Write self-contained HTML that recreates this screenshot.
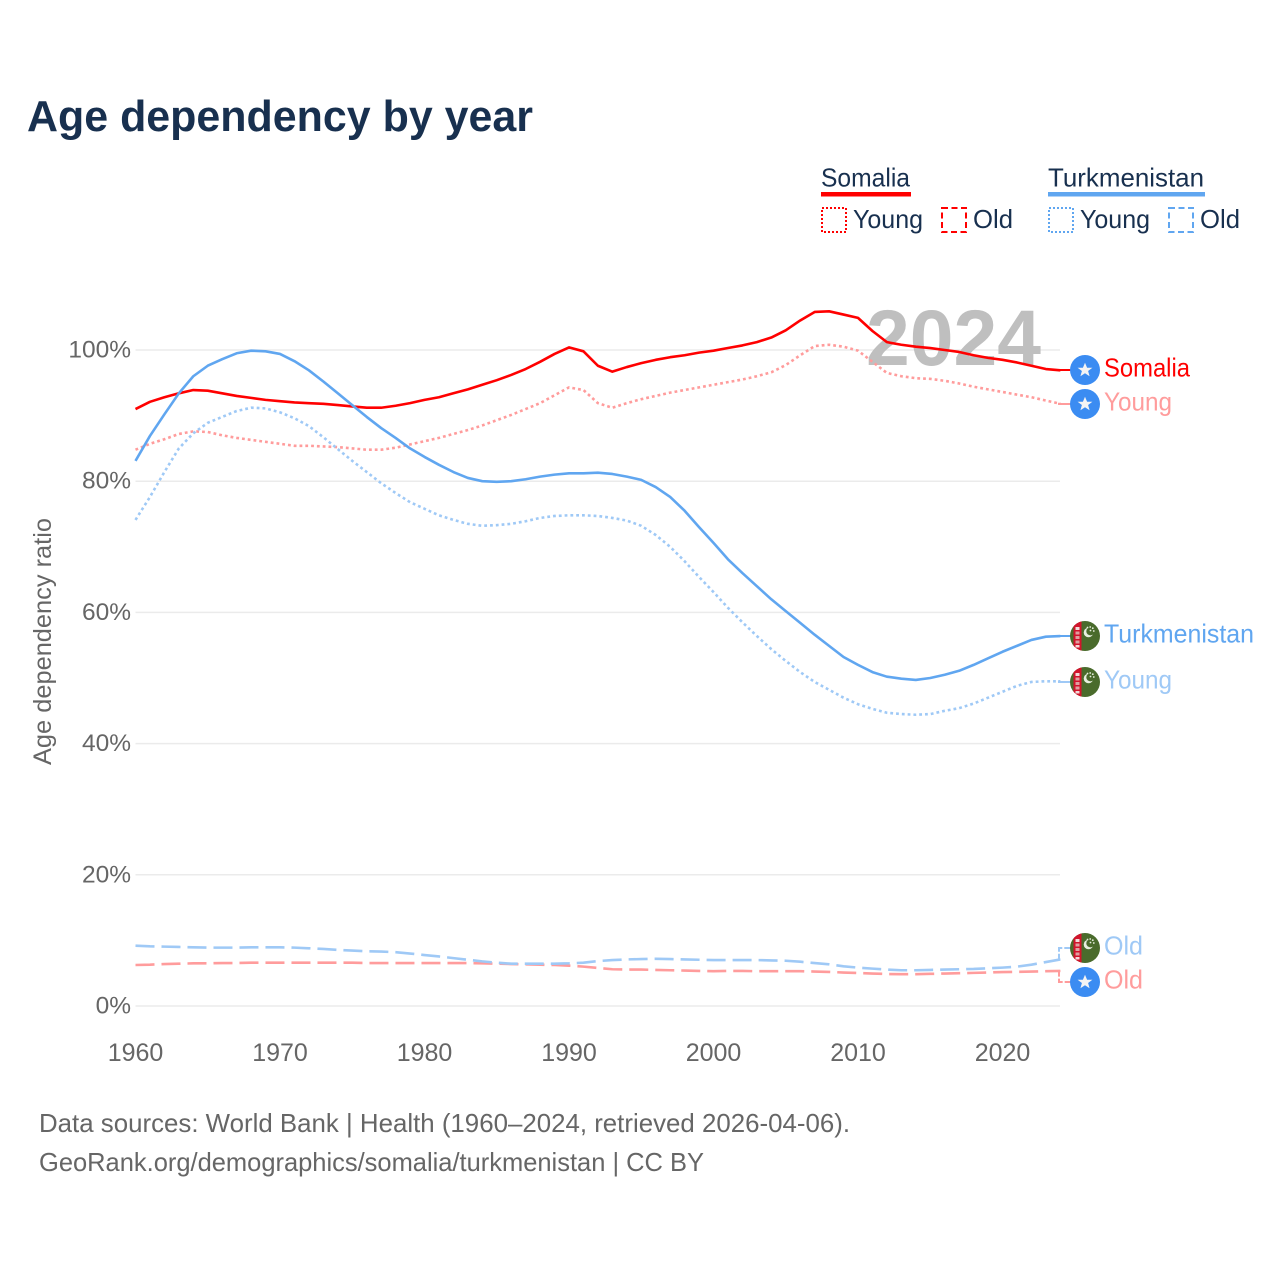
<!DOCTYPE html>
<html lang="en">
<head>
<meta charset="utf-8">
<title>Age dependency by year</title>
<style>
html,body{margin:0;padding:0;background:#fff;}
svg{display:block;}
text{font-family:"Liberation Sans",sans-serif;}
</style>
</head>
<body>
<svg id="chart" width="1280" height="1280" viewBox="0 0 1280 1280" xmlns="http://www.w3.org/2000/svg">
  <defs>
    <clipPath id="flag-clip"><circle cx="0" cy="0" r="15"/></clipPath>
    <g id="flag-so">
      <circle cx="0" cy="0" r="15" fill="#3b8cf2"/>
      <path d="M0-7.2 2.1-2.2 7.4-2.2 3.1 1 4.6 6.3 0 3.2-4.6 6.3-3.1 1-7.4-2.2-2.1-2.2Z" fill="#f4f4f4"/>
    </g>
    <g id="flag-tm">
      <g clip-path="url(#flag-clip)">
        <rect x="-15" y="-15" width="30" height="30" fill="#4a6b2c"/>
        <rect x="-11.5" y="-15" width="8" height="30" fill="#d2142c"/>
        <rect x="-9.5" y="-9" width="4" height="3" fill="#f3d9d9"/>
        <rect x="-9.5" y="-4.5" width="4" height="3" fill="#e0a0a0"/>
        <rect x="-9.5" y="0" width="4" height="3" fill="#e0a0a0"/>
        <rect x="-9.5" y="4.5" width="4" height="3" fill="#e0a0a0"/>
        <rect x="-9.5" y="9" width="4" height="2.5" fill="#f3d9d9"/>
      </g>
      <circle cx="3.5" cy="-3.5" r="4.8" fill="#e8efe0"/>
      <circle cx="5.5" cy="-4.8" r="4.2" fill="#4a6b2c"/>
      <circle cx="2.5" cy="-8.5" r="0.9" fill="#e8efe0"/>
      <circle cx="5.2" cy="-9" r="0.9" fill="#e8efe0"/>
      <circle cx="7.8" cy="-7.8" r="0.9" fill="#e8efe0"/>
      <circle cx="8.8" cy="-5" r="0.9" fill="#e8efe0"/>
      <circle cx="5.5" cy="-5.5" r="0.9" fill="#e8efe0"/>
    </g>
  </defs>

  <text x="27" y="131" font-size="44" font-weight="700" fill="#18304f" textLength="506" lengthAdjust="spacingAndGlyphs">Age dependency by year</text>

  <g fill="#18304f" font-size="26">
    <text x="821" y="186.5" textLength="89" lengthAdjust="spacingAndGlyphs">Somalia</text>
    <rect x="821" y="192" width="90" height="4.5" fill="#ff0000"/>
    <rect x="822" y="208" width="24" height="24" fill="none" stroke="#ff0000" stroke-width="2" stroke-dasharray="2 2"/>
    <text x="853" y="228" textLength="70" lengthAdjust="spacingAndGlyphs">Young</text>
    <rect x="942" y="208" width="24" height="24" fill="none" stroke="#ff0000" stroke-width="2" stroke-dasharray="6 3.5"/>
    <text x="973" y="228" textLength="40" lengthAdjust="spacingAndGlyphs">Old</text>

    <text x="1048" y="186.5" textLength="156" lengthAdjust="spacingAndGlyphs">Turkmenistan</text>
    <rect x="1048" y="192" width="157" height="4.5" fill="#60a6f0"/>
    <rect x="1049" y="208" width="24" height="24" fill="none" stroke="#60a6f0" stroke-width="2" stroke-dasharray="2 2"/>
    <text x="1080" y="228" textLength="70" lengthAdjust="spacingAndGlyphs">Young</text>
    <rect x="1169" y="208" width="24" height="24" fill="none" stroke="#60a6f0" stroke-width="2" stroke-dasharray="6 3.5"/>
    <text x="1200" y="228" textLength="40" lengthAdjust="spacingAndGlyphs">Old</text>
  </g>

  <text transform="translate(51,765) rotate(-90)" font-size="25" fill="#666666" textLength="247" lengthAdjust="spacingAndGlyphs">Age dependency ratio</text>

  <g id="grid"></g>
  <g id="y-ticks"></g>
  <g id="x-ticks"></g>

  <text x="866" y="365" font-size="79" font-weight="700" fill="#bfbfbf" textLength="175" lengthAdjust="spacingAndGlyphs">2024</text>

  <g id="series"></g>
  <g id="end-labels"></g>

  <g font-size="26" fill="#666666">
    <text x="39" y="1132" textLength="811" lengthAdjust="spacingAndGlyphs">Data sources: World Bank | Health (1960–2024, retrieved 2026-04-06).</text>
    <text x="39" y="1171" textLength="665" lengthAdjust="spacingAndGlyphs">GeoRank.org/demographics/somalia/turkmenistan | CC BY</text>
  </g>
</svg>

<script>
const startYear = 1960;
const yTickValues = [0, 20, 40, 60, 80, 100];
const yTickLabels = ['0%', '20%', '40%', '60%', '80%', '100%'];
const xTickValues = [1960, 1970, 1980, 1990, 2000, 2010, 2020];
const xTickLabels = ['1960', '1970', '1980', '1990', '2000', '2010', '2020'];

const somaliaTotal = [91.0,92.1,92.8,93.4,93.9,93.8,93.4,93.0,92.7,92.4,
  92.2,92.0,91.9,91.8,91.6,91.4,91.2,91.2,91.5,91.9,
  92.4,92.8,93.4,94.0,94.7,95.4,96.2,97.1,98.2,99.4,
  100.4,99.8,97.6,96.7,97.4,98.0,98.5,98.9,99.2,99.6,
  99.9,100.3,100.7,101.2,101.9,103.0,104.5,105.8,105.9,105.4,
  104.9,102.9,101.2,100.8,100.5,100.3,100.0,99.7,99.2,98.8,
  98.5,98.1,97.6,97.1,96.9];
const somaliaYoung = [84.8,85.7,86.4,87.2,87.6,87.5,87.0,86.6,86.3,86.0,
  85.7,85.4,85.4,85.3,85.2,85.0,84.8,84.8,85.1,85.6,
  86.1,86.6,87.2,87.8,88.5,89.3,90.1,91.0,91.9,93.1,
  94.3,93.9,91.9,91.2,91.9,92.5,93.0,93.5,93.9,94.3,
  94.7,95.1,95.5,96.0,96.6,97.7,99.2,100.6,100.8,100.5,
  99.9,98.2,96.5,96.0,95.7,95.6,95.3,94.9,94.4,94.0,
  93.6,93.2,92.8,92.3,91.8];
const somaliaOld = [6.25,6.3,6.4,6.45,6.5,6.5,6.55,6.55,6.6,6.6,
  6.6,6.6,6.6,6.6,6.6,6.6,6.55,6.55,6.55,6.55,
  6.55,6.55,6.55,6.55,6.5,6.45,6.4,6.35,6.3,6.25,
  6.15,6.0,5.8,5.6,5.55,5.55,5.5,5.45,5.4,5.35,
  5.3,5.35,5.35,5.3,5.3,5.3,5.3,5.25,5.2,5.1,
  5.03,4.95,4.88,4.85,4.85,4.9,4.95,5.0,5.05,5.1,
  5.18,5.2,5.25,5.3,5.34];
const turkmenistanTotal = [83.1,86.9,90.2,93.4,96.0,97.6,98.6,99.5,99.9,99.8,
  99.4,98.3,96.9,95.2,93.4,91.6,89.8,88.1,86.6,85.0,
  83.7,82.5,81.4,80.5,80.0,79.9,80.0,80.3,80.7,81.0,
  81.2,81.2,81.3,81.1,80.7,80.2,79.1,77.6,75.5,73.0,
  70.6,68.1,66.0,64.0,62.0,60.2,58.4,56.6,54.9,53.2,
  52.0,50.9,50.2,49.9,49.7,50.0,50.5,51.1,52.0,53.0,
  54.0,54.9,55.8,56.3,56.4];
const turkmenistanYoung = [74.1,77.6,81.4,85.0,87.3,88.9,89.8,90.7,91.2,91.1,
  90.5,89.6,88.4,86.7,84.9,83.1,81.4,79.7,78.2,76.8,
  75.8,74.8,74.1,73.5,73.2,73.3,73.5,73.9,74.4,74.7,
  74.8,74.8,74.7,74.4,74.0,73.2,71.8,70.0,67.8,65.4,
  63.1,60.7,58.5,56.4,54.4,52.6,50.9,49.4,48.2,47.0,
  46.0,45.3,44.7,44.5,44.4,44.5,45.0,45.4,46.1,47.0,
  47.9,48.8,49.4,49.5,49.5];
const turkmenistanOld = [9.2,9.1,9.05,9.0,8.95,8.9,8.9,8.9,8.95,8.95,
  8.95,8.9,8.8,8.7,8.55,8.45,8.35,8.3,8.2,8.0,
  7.77,7.55,7.3,7.05,6.8,6.6,6.45,6.45,6.45,6.45,
  6.5,6.6,6.85,7.0,7.1,7.15,7.2,7.15,7.1,7.05,
  7.0,7.0,7.0,7.0,6.95,6.9,6.75,6.55,6.35,6.05,
  5.85,5.7,5.55,5.45,5.45,5.5,5.55,5.6,5.65,5.75,
  5.85,6.0,6.3,6.7,7.1];

const NS = 'http://www.w3.org/2000/svg';
function xScale(year) { return 135.5 + (year - startYear) * 14.45; }
function yScale(value) { return 1006 - value * 6.56; }
function make(tag, attrs, parent) {
  const el = document.createElementNS(NS, tag);
  Object.keys(attrs).forEach(function (k) { el.setAttribute(k, attrs[k]); });
  parent.appendChild(el);
  return el;
}
function pointsFor(values) {
  return values.map(function (v, i) {
    return xScale(startYear + i).toFixed(2) + ',' + yScale(v).toFixed(2);
  }).join(' ');
}

const gridG = document.getElementById('grid');
const yG = document.getElementById('y-ticks');
yTickValues.forEach(function (v, i) {
  const line = make('line', {x1: 135.5, x2: 1060, y1: yScale(v), y2: yScale(v), stroke: '#ebebeb', 'stroke-width': 1.5}, gridG);
  
  
  const label = make('text', {x: 131, y: yScale(v) + 7.5, 'text-anchor': 'end', 'font-size': 24.5, fill: '#666666'}, yG);
  
  
  label.textContent = yTickLabels[i];
});

const xG = document.getElementById('x-ticks');
xTickValues.forEach(function (v, i) {
  const label = make('text', {x: xScale(v), y: 1061, 'text-anchor': 'middle', 'font-size': 25, fill: '#666666'}, xG);
  
  
  label.textContent = xTickLabels[i];
});

const seriesG = document.getElementById('series');
function drawLine(values, color, dash, name) {
  const attrs = {points: pointsFor(values), fill: 'none', stroke: color, 'stroke-width': 2.6, 'stroke-linejoin': 'round'};
  if (dash) { attrs['stroke-dasharray'] = dash; }
  const el = make('polyline', attrs, seriesG);
  
  
}
drawLine(somaliaOld, '#ff9c9c', '19 7', 'line-somalia-old');
drawLine(somaliaYoung, '#ff9c9c', '2.8 3', 'line-somalia-young');
drawLine(somaliaTotal, '#ff0000', '', 'line-somalia-total');
drawLine(turkmenistanOld, '#9fc9f6', '19 7', 'line-turkmenistan-old');
drawLine(turkmenistanYoung, '#9fc9f6', '2.8 3', 'line-turkmenistan-young');
drawLine(turkmenistanTotal, '#60a6f0', '', 'line-turkmenistan-total');

const endG = document.getElementById('end-labels');
function drawEnd(values, flagY, flag, text, color, width, dash, lineColor, name) {
  const lastX = xScale(startYear + values.length - 1);
  const lastY = yScale(values[values.length - 1]);
  const connAttrs = {
    d: 'M' + lastX + ' ' + lastY + 'H1059V' + flagY + 'H1072',
    fill: 'none', stroke: lineColor, 'stroke-width': 2
  };
  if (dash) { connAttrs['stroke-dasharray'] = dash; }
  const conn = make('path', connAttrs, endG);
  
  
  const use = make('use', {href: flag, x: 1085, y: flagY}, endG);
  
  
  const label = make('text', {x: 1104, y: flagY + 6.5, 'font-size': 26, fill: color, textLength: width, lengthAdjust: 'spacingAndGlyphs'}, endG);
  
  
  label.textContent = text;
}
drawEnd(somaliaTotal, 370, '#flag-so', 'Somalia', '#ff0000', 86, '', '#ff0000', 'end-somalia-total');
drawEnd(somaliaYoung, 404, '#flag-so', 'Young', '#ff9c9c', 68, '', '#ff9c9c', 'end-somalia-young');
drawEnd(turkmenistanTotal, 636, '#flag-tm', 'Turkmenistan', '#60a6f0', 150, '', '#60a6f0', 'end-turkmenistan-total');
drawEnd(turkmenistanYoung, 682, '#flag-tm', 'Young', '#9fc9f6', 68, '', '#9fc9f6', 'end-turkmenistan-young');
drawEnd(turkmenistanOld, 948, '#flag-tm', 'Old', '#9fc9f6', 39, '7 2', '#9fc9f6', 'end-turkmenistan-old');
drawEnd(somaliaOld, 982, '#flag-so', 'Old', '#ff9c9c', 39, '7 2', '#ff9c9c', 'end-somalia-old');
</script>
</body>
</html>
